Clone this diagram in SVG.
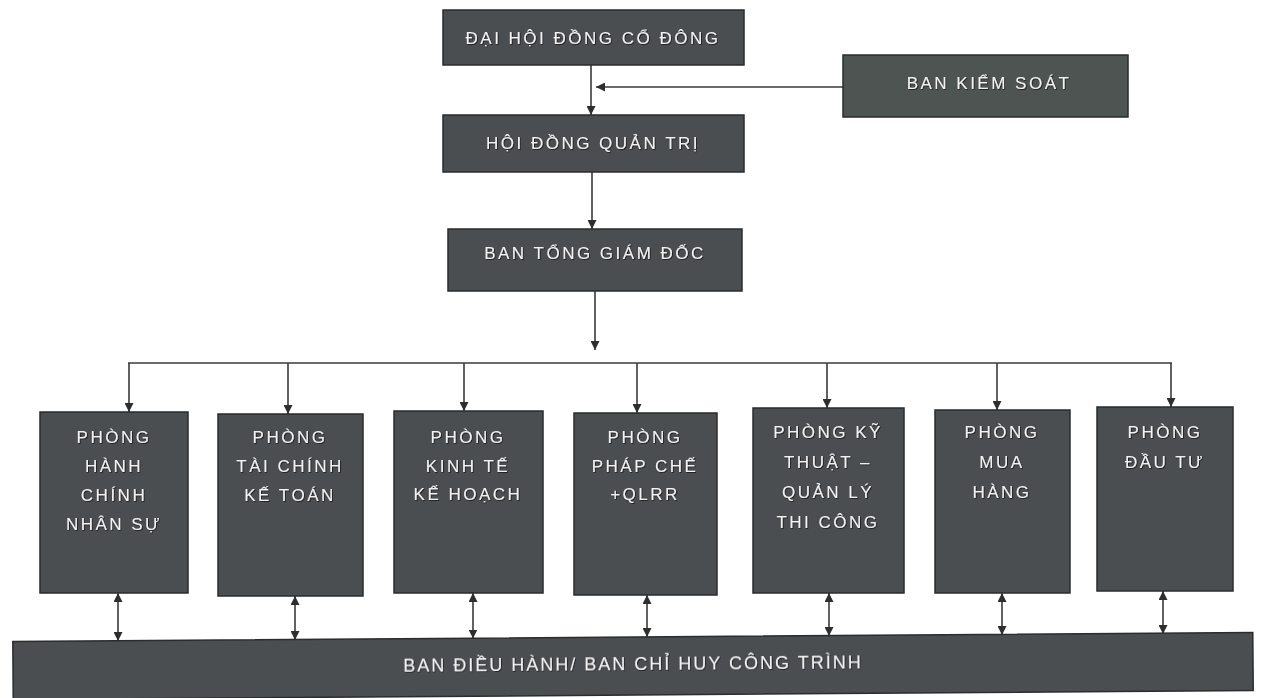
<svg xmlns="http://www.w3.org/2000/svg" width="1261" height="698" viewBox="0 0 1261 698">
<style>
.box{fill:#4b4e50;stroke:#2a2c2d;stroke-width:1.5}
.boxg{fill:#4e5451;stroke:#2a2c2d;stroke-width:1.5}
.lbl{font-family:"Liberation Sans",Arial,sans-serif;font-size:17px;fill:#f2f2f2;text-anchor:middle;dominant-baseline:central;letter-spacing:2.5px;filter:url(#sh)}
.conn{stroke:#3a3a3a;stroke-width:1.6;fill:none}
</style>
<defs>
<marker id="ah" viewBox="0 0 10 10" refX="10" refY="5" markerWidth="9" markerHeight="9" markerUnits="userSpaceOnUse" orient="auto-start-reverse">
<path d="M0,0 L10,5 L0,10 z" fill="#2e2e2e"/>
</marker>
<filter id="sh" x="-10%" y="-30%" width="120%" height="160%">
<feDropShadow dx="0.8" dy="0.8" stdDeviation="0.6" flood-color="#111" flood-opacity="0.9"/>
</filter>
</defs>
<rect width="1261" height="698" fill="#ffffff"/>

<g id="connectors">
<line class="conn" x1="591" y1="65" x2="591" y2="115" marker-end="url(#ah)"/>
<line class="conn" x1="843" y1="87" x2="596" y2="87" marker-end="url(#ah)"/>
<line class="conn" x1="592" y1="172" x2="592" y2="229" marker-end="url(#ah)"/>
<line class="conn" x1="595" y1="291" x2="595" y2="350" marker-end="url(#ah)"/>
<line class="conn" x1="128" y1="363" x2="1172" y2="363"/>
<line class="conn" x1="129" y1="363" x2="129" y2="412" marker-end="url(#ah)"/>
<line class="conn" x1="288" y1="363" x2="288" y2="414" marker-end="url(#ah)"/>
<line class="conn" x1="464" y1="363" x2="464" y2="411" marker-end="url(#ah)"/>
<line class="conn" x1="637" y1="363" x2="637" y2="413" marker-end="url(#ah)"/>
<line class="conn" x1="827" y1="363" x2="827" y2="408" marker-end="url(#ah)"/>
<line class="conn" x1="997" y1="363" x2="997" y2="410" marker-end="url(#ah)"/>
<line class="conn" x1="1171" y1="363" x2="1171" y2="407" marker-end="url(#ah)"/>
<line class="conn" x1="118" y1="593" x2="118" y2="641" marker-start="url(#ah)" marker-end="url(#ah)"/>
<line class="conn" x1="295" y1="596" x2="295" y2="640" marker-start="url(#ah)" marker-end="url(#ah)"/>
<line class="conn" x1="473" y1="593" x2="473" y2="638.5" marker-start="url(#ah)" marker-end="url(#ah)"/>
<line class="conn" x1="647" y1="595" x2="647" y2="637" marker-start="url(#ah)" marker-end="url(#ah)"/>
<line class="conn" x1="829" y1="593" x2="829" y2="636" marker-start="url(#ah)" marker-end="url(#ah)"/>
<line class="conn" x1="1002" y1="593" x2="1002" y2="635" marker-start="url(#ah)" marker-end="url(#ah)"/>
<line class="conn" x1="1163" y1="591" x2="1163" y2="634" marker-start="url(#ah)" marker-end="url(#ah)"/>
</g>

<g id="n-dhdcd">
<rect class="box" x="443" y="10" width="301" height="55"/>
<text class="lbl" x="593" y="38">ĐẠI HỘI ĐỒNG CỔ ĐÔNG</text>
</g>
<g id="n-bks">
<rect class="boxg" x="843" y="55" width="285" height="62"/>
<text class="lbl" x="989" y="83">BAN KIỂM SOÁT</text>
</g>
<g id="n-hdqt">
<rect class="box" x="443" y="115" width="301" height="57"/>
<text class="lbl" x="593" y="143">HỘI ĐỒNG QUẢN TRỊ</text>
</g>
<g id="n-btgd">
<rect class="box" x="448" y="229" width="294" height="62"/>
<text class="lbl" x="595" y="253">BAN TỔNG GIÁM ĐỐC</text>
</g>

<g id="n-hcns">
<rect class="box" x="40" y="412" width="148" height="181"/>
<text class="lbl" x="114" y="437">PHÒNG</text>
<text class="lbl" x="114" y="466">HÀNH</text>
<text class="lbl" x="114" y="495">CHÍNH</text>
<text class="lbl" x="114" y="524">NHÂN SỰ</text>
</g>
<g id="n-tckt">
<rect class="box" x="218" y="414" width="145" height="182"/>
<text class="lbl" x="290" y="437">PHÒNG</text>
<text class="lbl" x="290" y="466">TÀI CHÍNH</text>
<text class="lbl" x="290" y="495">KẾ TOÁN</text>
</g>
<g id="n-ktkh">
<rect class="box" x="394" y="411" width="149" height="182"/>
<text class="lbl" x="468" y="437">PHÒNG</text>
<text class="lbl" x="468" y="466">KINH TẾ</text>
<text class="lbl" x="468" y="494">KẾ HOẠCH</text>
</g>
<g id="n-pc">
<rect class="box" x="574" y="413" width="143" height="182"/>
<text class="lbl" x="645" y="437">PHÒNG</text>
<text class="lbl" x="645" y="466">PHÁP CHẾ</text>
<text class="lbl" x="645" y="494">+QLRR</text>
</g>
<g id="n-kt">
<rect class="box" x="753" y="408" width="151" height="185"/>
<text class="lbl" x="828" y="432">PHÒNG KỸ</text>
<text class="lbl" x="828" y="462">THUẬT –</text>
<text class="lbl" x="828" y="492">QUẢN LÝ</text>
<text class="lbl" x="828" y="522">THI CÔNG</text>
</g>
<g id="n-mh">
<rect class="box" x="935" y="410" width="135" height="183"/>
<text class="lbl" x="1002" y="432">PHÒNG</text>
<text class="lbl" x="1002" y="462">MUA</text>
<text class="lbl" x="1002" y="492">HÀNG</text>
</g>
<g id="n-dt">
<rect class="box" x="1097" y="407" width="136" height="184"/>
<text class="lbl" x="1165" y="432">PHÒNG</text>
<text class="lbl" x="1165" y="462">ĐẦU TƯ</text>
</g>

<g id="n-bdh" transform="rotate(-0.42 633 665)">
<rect class="box" x="13" y="637" width="1240" height="58" fill="#55585a"/>
<text class="lbl" x="633" y="664" style="font-size:18px;letter-spacing:2px">BAN ĐIỀU HÀNH/ BAN CHỈ HUY CÔNG TRÌNH</text>
</g>
</svg>
